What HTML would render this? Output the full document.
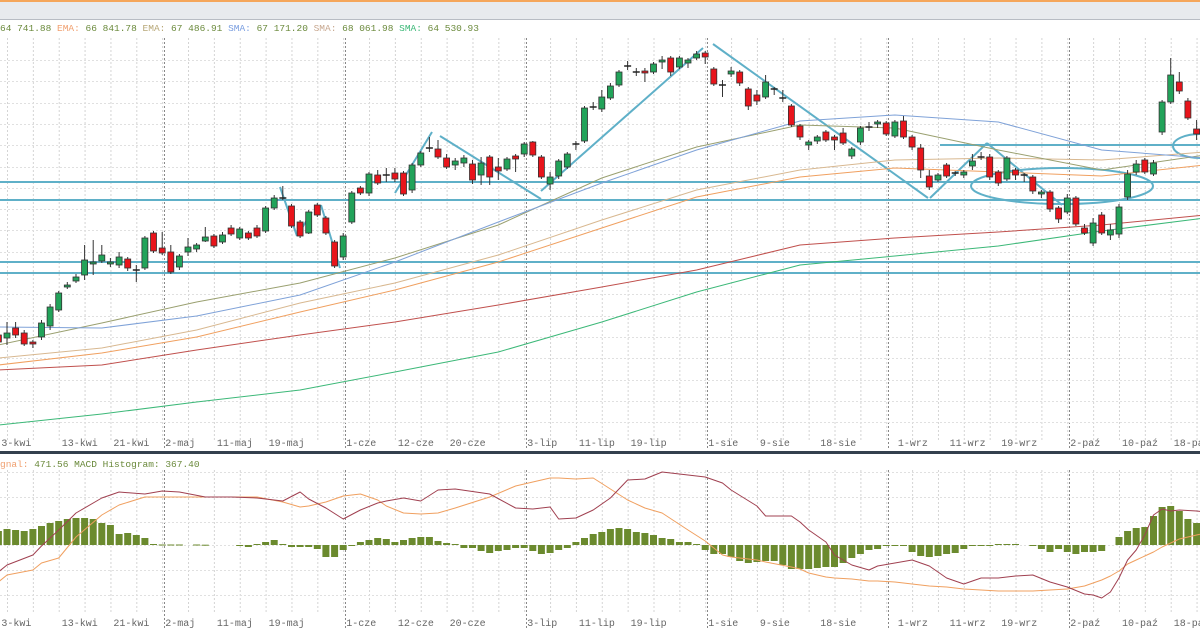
<!DOCTYPE html>
<html><head><meta charset="utf-8"><style>
html,body{margin:0;padding:0;background:#fff;}
svg{display:block;font-family:"Liberation Mono",monospace;}
</style></head><body>
<svg id="chart" width="1200" height="630" viewBox="0 0 1200 630" xmlns="http://www.w3.org/2000/svg">
<rect x="0" y="0" width="1200" height="630" fill="#fff"/>
<rect x="0" y="0" width="1200" height="2" fill="#f5a65b"/>
<rect x="0" y="2" width="1200" height="17" fill="#e8eaee"/>
<line x1="0" y1="19.5" x2="1200" y2="19.5" stroke="#b8bcc4"/>
<g id="grid"></g>
<g id="overlays"></g>
<g id="mas"></g>
<g id="candles"></g>
<g id="macd"></g>
<g id="labels"></g>
<text x="0" y="31" font-size="9.5" fill="#6b8a3c">64 741.88 <tspan fill="#f0a070">EMA:</tspan> 66 841.78 <tspan fill="#b8a878">EMA:</tspan> 67 486.91 <tspan fill="#7a9ee0">SMA:</tspan> 67 171.20 <tspan fill="#c8a890">SMA:</tspan> 68 061.98 <tspan fill="#3cb878">SMA:</tspan> 64 530.93</text>
<rect x="0" y="451" width="1200" height="3" fill="#34404e"/>
<text x="0" y="467" font-size="9.5" fill="#6b8a3c"><tspan fill="#f0a070">gnal:</tspan> 471.56 MACD Histogram: 367.40</text>
</svg>
<script>
// ---------- price data (level units; y = 500 - level) ----------
const opens  = [165,162,172,167,158,163,174,190,213,219,225,236,239,236,235,241,230,232,267,252,248,233,248,251,259,264,258,272,262,267,272,269,292,302,294,278,267,295,282,258,243,278,312,307,325,325,327,327,310,335,352,351,342,335,337,336,325,343,333,331,344,346,358,343,316,324,333,356,359,393,391,402,415,434,428,429,428,438,442,433,437,442,447,431,415,426,428,411,405,403,411,402,394,374,355,359,368,363,367,344,358,373,376,377,364,379,363,352,324,320,335,327,325,334,343,343,328,321,330,325,323,306,308,292,288,302,272,257,285,265,266,303,328,340,326,368,398,418,399,371];
const closes = [158,167,165,156,156,177,193,207,215,223,240,238,245,238,243,232,230,262,249,247,228,244,253,255,263,254,265,266,271,262,264,292,302,302,274,264,288,285,267,234,264,307,307,326,317,325,321,306,335,347,352,343,333,339,342,320,337,323,329,341,341,356,345,323,323,339,346,356,392,393,403,414,428,434,428,427,436,440,428,442,440,446,443,416,415,429,417,394,399,418,411,402,375,363,358,363,360,360,357,351,372,373,378,366,378,363,353,330,313,325,324,327,328,339,343,323,317,342,325,325,309,308,291,281,302,276,267,277,267,270,293,326,336,328,337,398,425,409,382,366];
const highs  = [168,178,178,170,160,180,196,209,218,226,255,260,255,242,248,243,235,264,269,268,255,246,262,257,273,266,268,275,273,269,275,294,305,314,296,280,290,297,284,260,267,309,314,328,330,332,332,329,337,349,363,360,346,342,345,340,343,345,342,343,346,358,359,345,328,341,348,359,394,398,410,417,430,439,432,432,438,444,444,444,442,449,449,433,420,433,430,413,410,425,413,410,396,376,360,365,370,365,372,353,374,378,380,379,380,384,365,356,330,327,337,329,330,346,348,346,330,344,332,327,325,310,310,294,306,304,276,282,288,276,296,330,340,342,340,400,442,428,402,380];
const lows   = [155,155,162,154,152,160,170,188,211,217,220,225,237,233,232,229,218,230,247,245,226,230,244,248,258,252,256,264,260,260,262,267,290,300,272,262,266,283,265,232,240,276,305,304,315,318,318,304,307,333,348,341,331,330,333,316,315,315,320,329,328,343,343,321,310,321,331,350,357,390,388,400,413,430,424,418,426,431,424,431,432,440,436,414,403,423,414,390,395,401,405,398,373,360,350,356,358,350,355,341,355,369,372,364,362,361,350,322,310,318,322,324,322,330,340,320,314,319,320,318,306,302,288,277,286,274,265,254,265,260,262,300,325,326,324,365,396,406,380,360];
// moving averages sampled at candle indices
const maIdx   = [-1,11,22,34,45,57,69,80,92,103,115,127,139];
const smaBlue = [173,172,184,205,238,278,317,350,379,385,378,350,342];
const smaOlive= [155,177,198,217,242,275,322,353,375,372,350,330,345];
const emaOrange=[135,147,163,188,210,238,272,303,323,332,328,324,335];
const emaTan  = [142,152,170,197,217,245,280,310,330,340,342,340,348];
const smaRed  = [130,135,150,165,178,195,213,230,255,262,268,275,285];
const smaGreen= [75,86,98,110,128,148,178,208,235,244,254,269,282];
// horizontal support/resistance levels
const hLevels = [318,300,238,227];
// MACD histogram per candle (relative units, zero line)
const hist = [14,16,15,14,16,19,22,24,26,27,27,26,22,20,11,12,10,7,1,0.5,0.5,0.5,0,0.5,0.3,0,0,0,-1,-2,1,3,5,1,-2,-2,-2,-4,-12,-12,-5,-1,3,5,7,6,3,5,7,8,8,4,2,1,-3,-3,-6,-8,-6,-5,-3,-3,-6,-9,-8,-5,-3,3,7,11,13,16,17,16,13,12,10,7,6,3,3,1,-5,-9,-9,-12,-16,-18,-17,-16,-16,-20,-24,-24,-24,-23,-22,-22,-18,-13,-9,-5,-4,-1,-1,-1,-7,-11,-12,-11,-9,-8,-4,-1,-1,-1,1,1,1,0,-1,-4,-7,-4,-7,-9,-7,-7,-6,0,8,14,17,18,29,38,39,34,26,22];
const macdIdx = [-1,0,3,4,6,8,11,13,16,18,20,23,26,29,32,34,35,37,39,41,43,44,46,48,50,52,56,59,61,63,64,66,68,70,72,74,76,79,81,83,84,87,88,91,92,93,95,96,98,100,101,103,105,107,109,111,113,115,117,119,121,123,125,126,127,128,129,130,131,132,133,134,135,136,138,139];
const macdLine= [-27,-20,-10,-1,15,32,47,53,51,54,53,48,48,47,44,53,46,37,26,35,42,44,47,44,55,56,51,37,36,38,26,27,35,47,65,66,73,70,68,62,55,39,29,29,23,15,3,-10,-20,-25,-21,-18,-15,-21,-33,-39,-33,-33,-31,-30,-37,-42,-49,-50,-53,-47,-33,-15,-5,10,30,36,34,35,34,33];
const signalLine=[-37,-30,-25,-18,-13,8,30,40,48,48,48,48,48,48,43,38,39,43,49,51,45,39,32,31,32,37,48,59,63,67,67,66,67,56,45,37,32,15,4,-10,-12,-15,-17,-22,-24,-28,-32,-33,-34,-36,-36,-37,-39,-41,-42,-44,-45,-46,-46,-46,-45,-44,-41,-38,-35,-31,-26,-19,-15,-11,-7,-2,2,6,10,12];
const dateLabels = ["3-kwi","13-kwi","21-kwi","2-maj","11-maj","19-maj","1-cze","12-cze","20-cze","3-lip","11-lip","19-lip","1-sie","9-sie","18-sie","1-wrz","11-wrz","19-wrz","2-paź","10-paź","18-paź"];
const dateIdx = [0,7,13,19,25,31,40,46,52,61,67,73,82,88,95,104,110,116,124,130,136];

// ---------- scales ----------
const NS="http://www.w3.org/2000/svg";
const X0=7, STEP=8.62;
function xScale(i){return X0+i*STEP;}
function yScale(v){return 500-v;}
const MZERO=545, MK=1.0;
function yMacd(v){return MZERO-v*MK;}
function mk(tag,attrs,parent){const e=document.createElementNS(NS,tag);for(const k in attrs)e.setAttribute(k,attrs[k]);parent.appendChild(e);return e;}

// grid
const grid=document.getElementById('grid');
const monthIdx=[18,39,60,81,102,123];
for(let i=0;i<=140;i+=3){
  const x=xScale(i)+0.5;
  mk('line',{x1:x,y1:38,x2:x,y2:440,stroke:'#d4d4d4','stroke-dasharray':'2,2'},grid);
  mk('line',{x1:x,y1:470,x2:x,y2:612,stroke:'#d4d4d4','stroke-dasharray':'2,2'},grid);
}
monthIdx.forEach(i=>{const x=Math.round(xScale(i+0.2))+0.5;
  mk('line',{x1:x,y1:38,x2:x,y2:450,stroke:'#888','stroke-dasharray':'2,2'},grid);
  mk('line',{x1:x,y1:470,x2:x,y2:630,stroke:'#888','stroke-dasharray':'2,2'},grid);});
for(let y=60;y<440;y+=21.3){mk('line',{x1:0,y1:Math.round(y)+0.5,x2:1200,y2:Math.round(y)+0.5,stroke:'#e0e0e0','stroke-dasharray':'2,2'},grid);}
[472,497,522,545,570,595].forEach(y=>mk('line',{x1:0,y1:y+0.5,x2:1200,y2:y+0.5,stroke:'#e0e0e0','stroke-dasharray':'2,2'},grid));

// moving averages
const mas=document.getElementById('mas');
function poly(idx,vals,color,name,yf,parent,w){
  const pts=idx.map((i,k)=>xScale(i).toFixed(1)+','+yf(vals[k]).toFixed(1)).join(' ');
  const p=mk('polyline',{points:pts,fill:'none',stroke:color,'stroke-width':w||1,'stroke-linejoin':'round'},parent);
  
  
}
poly(maIdx,smaGreen,'#3cb878','sma-green-line',yScale,mas);
poly(maIdx,smaRed,'#c0504d','sma-red-line',yScale,mas);
poly(maIdx,emaTan,'#d8b890','ema-tan-line',yScale,mas);
poly(maIdx,emaOrange,'#f0a060','ema-orange-line',yScale,mas);
poly(maIdx,smaOlive,'#9aa070','sma-olive-line',yScale,mas);
poly(maIdx,smaBlue,'#7fa2d8','sma-blue-line',yScale,mas);

// overlays (drawing tools)
const ov=document.getElementById('overlays');
const TL='#5fb0c8';
hLevels.forEach(v=>{const l=mk('line',{x1:0,y1:yScale(v),x2:1200,y2:yScale(v),stroke:TL,'stroke-width':2},ov);
  
  });
const hs=mk('line',{x1:940,y1:145,x2:1200,y2:145,stroke:TL,'stroke-width':2},ov);


const trends=[[280,187,297,236],[297,236,312,212],[321,205,340,268],[395,193,432,132],[440,136,541,199],[541,191,703,48],[713,44,928,198],[930,198,987,143],[987,143,1062,205]];
trends.forEach(t=>{const l=mk('line',{x1:t[0],y1:t[1],x2:t[2],y2:t[3],stroke:TL,'stroke-width':2},ov);
  
  });
const e1=mk('ellipse',{cx:1062,cy:186,rx:91,ry:18,fill:'none',stroke:TL,'stroke-width':2},ov);


const e2=mk('ellipse',{cx:1200,cy:146,rx:27,ry:12,fill:'none',stroke:TL,'stroke-width':2},ov);



// candles
const cg=document.getElementById('candles');
for(let i=0;i<opens.length;i++){
  const x=xScale(i-1);
  const o=opens[i],c=closes[i];
  const up=c>o, doji=Math.abs(c-o)<1;
  const g=mk('g',{},cg);
  
  
  mk('line',{x1:x.toFixed(1),y1:yScale(highs[i]),x2:x.toFixed(1),y2:yScale(lows[i]),stroke:'#333','stroke-width':1},g);
  if(doji){mk('line',{x1:x-3.5,y1:yScale(o),x2:x+3.5,y2:yScale(o),stroke:'#222','stroke-width':1.5},g);}
  else{const top=yScale(Math.max(o,c)),bot=yScale(Math.min(o,c));
    mk('rect',{x:(x-3).toFixed(1),y:top,width:6,height:bot-top,fill:up?'#22a35a':'#e8141b',stroke:'#333','stroke-width':0.8},g);}
}

// MACD
const mg=document.getElementById('macd');
for(let i=0;i<hist.length;i++){
  const v=hist[i]; if(v===0)continue;
  const x=xScale(i-1);
  const y1=yMacd(Math.max(v,0)), y2=yMacd(Math.min(v,0));
  const r=mk('rect',{x:(x-3.5).toFixed(1),y:y1,width:7,height:Math.max(y2-y1,1),fill:'#6b8a2e'},mg);
  
  
}
poly(macdIdx,signalLine,'#f0a060','macd-signal-line',yMacd,mg);
poly(macdIdx,macdLine,'#a04050','macd-line',yMacd,mg);

// date labels
const lg=document.getElementById('labels');
dateLabels.forEach((d,k)=>{
  const x=xScale(dateIdx[k]-1)+3;
  [446,626].forEach(y=>{const t=mk('text',{x:x.toFixed(1),y:y,'font-size':10,fill:'#666'},lg);
    t.textContent=d;
    
    });
});
</script>
</body></html>
